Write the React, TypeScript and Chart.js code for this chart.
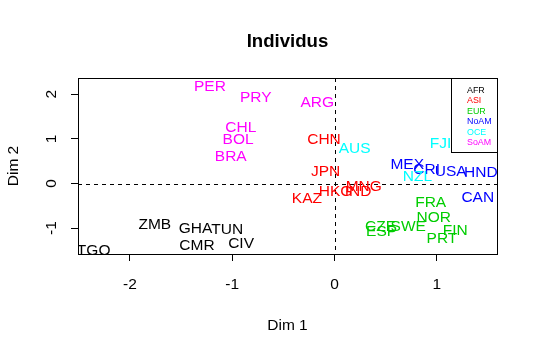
import React, { useEffect, useRef } from "react";
import { Chart, registerables } from "chart.js";
Chart.register(...registerables);

const regions = ["AFR", "ASI", "EUR", "NoAM", "OCE", "SoAM"];
const regionColors = ["#000000", "#FF0000", "#00CD00", "#0000FF", "#00FFFF", "#FF00FF"];

const countries = [
  "ZMB", "GHA", "TUN", "CMR", "CIV", "TGO",
  "CHN", "JPN", "KAZ", "HKG", "IND", "MNG",
  "FRA", "NOR", "SWE", "CZE", "ESP", "FIN", "PRT",
  "MEX", "CRI", "USA", "HND", "CAN",
  "AUS", "FJI", "NZL",
  "PER", "PRY", "CHL", "BOL", "BRA", "ARG",
];
const countryRegion = [
  "AFR", "AFR", "AFR", "AFR", "AFR", "AFR",
  "ASI", "ASI", "ASI", "ASI", "ASI", "ASI",
  "EUR", "EUR", "EUR", "EUR", "EUR", "EUR", "EUR",
  "NoAM", "NoAM", "NoAM", "NoAM", "NoAM",
  "OCE", "OCE", "OCE",
  "SoAM", "SoAM", "SoAM", "SoAM", "SoAM", "SoAM",
];
const dim1 = [
  -1.757, -1.36, -1.05, -1.345, -0.914, -2.355,
  -0.103, -0.087, -0.27, 0.01, 0.23, 0.285,
  0.94, 0.97, 0.72, 0.45, 0.46, 1.18, 1.05,
  0.71, 0.9, 1.135, 1.43, 1.4,
  0.197, 1.035, 0.81,
  -1.218, -0.77, -0.917, -0.943, -1.015, -0.169,
];
const dim2 = [
  -0.89, -0.98, -1.01, -1.36, -1.32, -1.47,
  1.01, 0.3, -0.32, -0.16, -0.16, -0.04,
  -0.41, -0.73, -0.93, -0.93, -1.05, -1.04, -1.22,
  0.45, 0.34, 0.29, 0.27, -0.3,
  0.81, 0.915, 0.17,
  2.19, 1.95, 1.29, 1.01, 0.62, 1.83,
];

const xTicks = [-2, -1, 0, 1];
const yTicks = [-1, 0, 1, 2];
const xRange = [-2.508, 1.588];
const yRange = [-1.58, 2.365];

const FONT = "'Liberation Sans', Arial, sans-serif";
const BASE = 15.5;

const labelPlugin = {
  id: "rplot",
  afterDatasetsDraw(chart: any) {
    const ctx = chart.ctx;
    const ca = chart.chartArea;
    const xs = chart.scales.x;
    const ys = chart.scales.y;
    ctx.save();
    ctx.beginPath();
    ctx.rect(ca.left, ca.top, ca.right - ca.left, ca.bottom - ca.top);
    ctx.clip();
    ctx.strokeStyle = "#000";
    ctx.lineWidth = 1;
    ctx.setLineDash([4, 4]);
    const x0 = Math.round(xs.getPixelForValue(0)) + 0.5;
    const y0 = Math.round(ys.getPixelForValue(0)) + 0.5;
    ctx.beginPath();
    ctx.moveTo(x0, ca.top);
    ctx.lineTo(x0, ca.bottom);
    ctx.moveTo(ca.left, y0);
    ctx.lineTo(ca.right, y0);
    ctx.stroke();
    ctx.setLineDash([]);
    ctx.font = `${BASE}px ${FONT}`;
    ctx.textAlign = "center";
    ctx.textBaseline = "alphabetic";
    chart.data.datasets.forEach((ds: any) => {
      ctx.fillStyle = ds.borderColor;
      ds.data.forEach((p: any) => {
        const px = xs.getPixelForValue(p.x);
        const py = ys.getPixelForValue(p.y);
        ctx.fillText(p.label, px, py + BASE * 0.358);
      });
    });
    ctx.restore();

    ctx.save();
    const lw = 46;
    const lh = 74;
    const lx = ca.right - lw;
    ctx.fillStyle = "#fff";
    ctx.fillRect(lx, ca.top, lw, lh);
    ctx.strokeStyle = "#000";
    ctx.lineWidth = 1;
    ctx.strokeRect(Math.round(lx) + 0.5, Math.round(ca.top) + 0.5, lw, lh);
    ctx.font = `8.9px ${FONT}`;
    ctx.textAlign = "left";
    ctx.textBaseline = "middle";
    regions.forEach((r, i) => {
      ctx.fillStyle = regionColors[i];
      ctx.fillText(r, lx + 16, ca.top + 12.5 + i * 10.4);
    });
    ctx.strokeStyle = "#000";
    ctx.strokeRect(Math.round(ca.left) + 0.5, Math.round(ca.top) + 0.5, Math.round(ca.right - ca.left), Math.round(ca.bottom - ca.top));
    ctx.fillStyle = "#000";
    ctx.textAlign = "center";
    ctx.textBaseline = "alphabetic";
    ctx.font = `bold 18.6px ${FONT}`;
    ctx.fillText("Individus", (ca.left + ca.right) / 2, 40 + 18.6 * 0.358);
    ctx.font = `${BASE}px ${FONT}`;
    ctx.fillText("Dim 1", (ca.left + ca.right) / 2, 324 + BASE * 0.358);
    yTicks.forEach((v) => {
      const py = ys.getPixelForValue(v);
      ctx.save();
      ctx.translate(50 + BASE * 0.358, py);
      ctx.rotate(-Math.PI / 2);
      ctx.fillText(String(v), 0, 0);
      ctx.restore();
    });
    ctx.save();
    ctx.translate(12 + BASE * 0.358, (ca.top + ca.bottom) / 2);
    ctx.rotate(-Math.PI / 2);
    ctx.fillText("Dim 2", 0, 0);
    ctx.restore();
    ctx.restore();
  },
};

export default function App() {
  const ref = useRef<HTMLCanvasElement | null>(null);
  useEffect(() => {
    document.body.style.margin = "0";
    const datasets = regions.map((r, i) => ({
      label: r,
      borderColor: regionColors[i],
      backgroundColor: regionColors[i],
      pointRadius: 0,
      data: countries
        .map((c, k) => ({ x: dim1[k], y: dim2[k], label: c, reg: countryRegion[k] }))
        .filter((p) => p.reg === r),
    }));
    const chart = new Chart(ref.current as HTMLCanvasElement, {
      type: "scatter",
      data: { datasets },
      options: {
        animation: false,
        responsive: true,
        maintainAspectRatio: false,
        layout: { padding: { top: 78, right: 40, left: 0, bottom: 0 } },
        plugins: { legend: { display: false }, tooltip: { enabled: false }, title: { display: false } },
        scales: {
          x: {
            type: "linear",
            min: xRange[0],
            max: xRange[1],
            afterBuildTicks: (s: any) => {
              s.ticks = xTicks.map((v) => ({ value: v }));
            },
            afterFit: (s: any) => {
              s.height = 98;
            },
            border: { display: false },
            grid: { drawOnChartArea: false, drawTicks: true, tickLength: 7, color: "#000", lineWidth: 1 },
            ticks: {
              color: "#000",
              font: { family: FONT, size: BASE },
              padding: 14,
              maxRotation: 0,
              minRotation: 0,
              callback: (v: any) => String(v),
            },
          },
          y: {
            type: "linear",
            min: yRange[0],
            max: yRange[1],
            afterBuildTicks: (s: any) => {
              s.ticks = yTicks.map((v) => ({ value: v }));
            },
            afterFit: (s: any) => {
              s.width = 78;
            },
            border: { display: false },
            grid: { drawOnChartArea: false, drawTicks: true, tickLength: 7, color: "#000", lineWidth: 1 },
            ticks: { display: false },
          },
        },
      },
      plugins: [labelPlugin],
    } as any);
    return () => chart.destroy();
  }, []);
  return (
    <div style={{ position: "relative", width: 537, height: 352, background: "#fff" }}>
      <canvas ref={ref} />
    </div>
  );
}
